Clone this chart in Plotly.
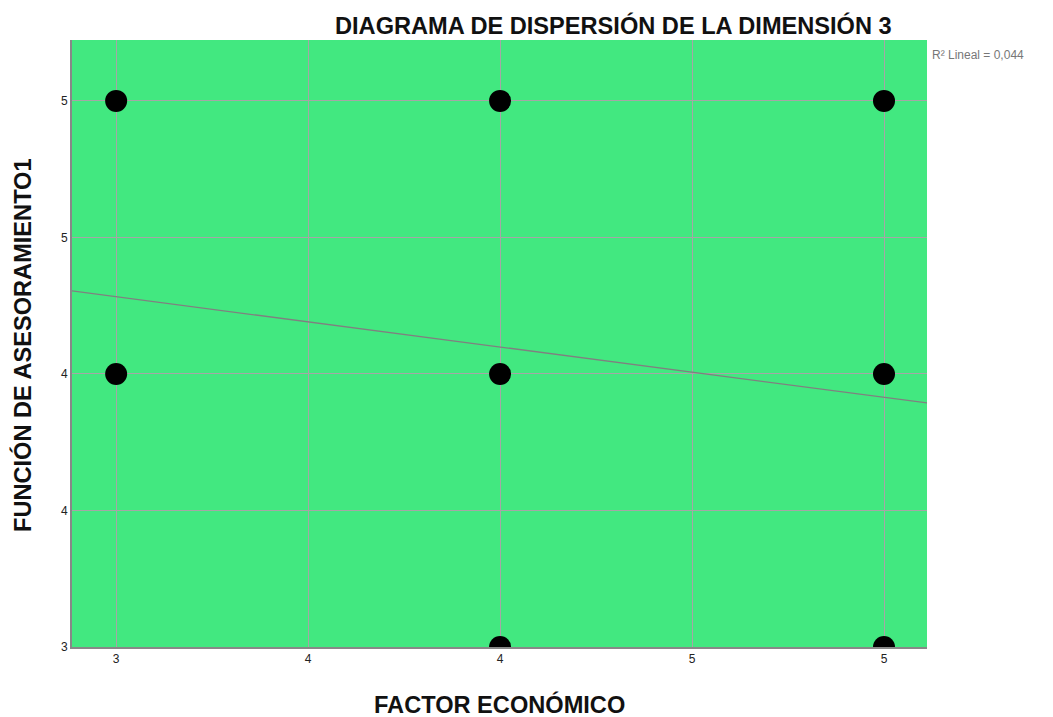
import plotly.graph_objects as go

# Data
point_x = [3, 4, 5, 3, 4, 5, 4, 5]
point_y = [5, 5, 5, 4, 4, 4, 3, 3]
trend_x = [2.885, 5.112]
trend_y = [4.304, 3.894]
tick_vals = [3, 3.5, 4, 4.5, 5]
tick_text = ["3", "4", "4", "5", "5"]
title_text = "DIAGRAMA DE DISPERSIÓN DE LA DIMENSIÓN 3"
x_title = "FACTOR ECONÓMICO"
y_title = "FUNCIÓN DE ASESORAMIENTO1"
r2_text = "R² Lineal = 0,044"

FONT = "Liberation Sans, Arial, sans-serif"
TSIZE = 23.6

fig = go.Figure()
fig.add_trace(go.Scatter(
    x=trend_x, y=trend_y, mode="lines",
    line=dict(color="#808080", width=1.3), hoverinfo="skip", showlegend=False))
fig.add_trace(go.Scatter(
    x=point_x, y=point_y, mode="markers",
    marker=dict(color="black", size=22, line=dict(width=0)),
    cliponaxis=True, showlegend=False))

fig.update_layout(
    width=1045, height=709,
    margin=dict(l=64, r=126, t=32, b=70),
    paper_bgcolor="white", plot_bgcolor="#42e880",
    font=dict(family=FONT, color="#222222", size=12),
    showlegend=False,
    annotations=[
        dict(text="<b>" + title_text + "</b>", xref="paper", yref="paper", x=0.633, y=1.0,
             xanchor="center", yanchor="middle", yshift=15, showarrow=False,
             font=dict(size=TSIZE, color="#111111", family=FONT)),
        dict(text=r2_text, xref="paper", yref="paper", x=1.0, y=1.0,
             xanchor="left", yanchor="middle", xshift=3, yshift=-15, showarrow=False,
             font=dict(size=12, color="#777777", family=FONT)),
        dict(text="<b>" + x_title + "</b>", xref="paper", yref="paper", x=0.5, y=0,
             xanchor="center", yanchor="middle", yshift=-57, showarrow=False,
             font=dict(size=TSIZE, color="#111111", family=FONT)),
        dict(text="<b>" + y_title + "</b>", xref="paper", yref="paper", x=0, y=0.4975,
             xanchor="center", yanchor="middle", xshift=-50, textangle=-90, showarrow=False,
             font=dict(size=TSIZE, color="#111111", family=FONT)),
    ],
)

fig.update_xaxes(
    range=[2.885, 5.112], tickvals=tick_vals, ticktext=tick_text,
    showgrid=True, gridcolor="#a6a6a6", gridwidth=1.3,
    showline=True, linecolor="#888888", linewidth=2, mirror=False,
    ticks="", zeroline=False, tickfont=dict(size=12, color="#222222"))
fig.update_yaxes(
    range=[3, 5.223], tickvals=tick_vals, ticktext=tick_text,
    showgrid=True, gridcolor="#a6a6a6", gridwidth=1.3,
    showline=True, linecolor="#888888", linewidth=2, mirror=False,
    ticks="", zeroline=False, tickfont=dict(size=12, color="#222222"))

fig.write_html("out.html")
